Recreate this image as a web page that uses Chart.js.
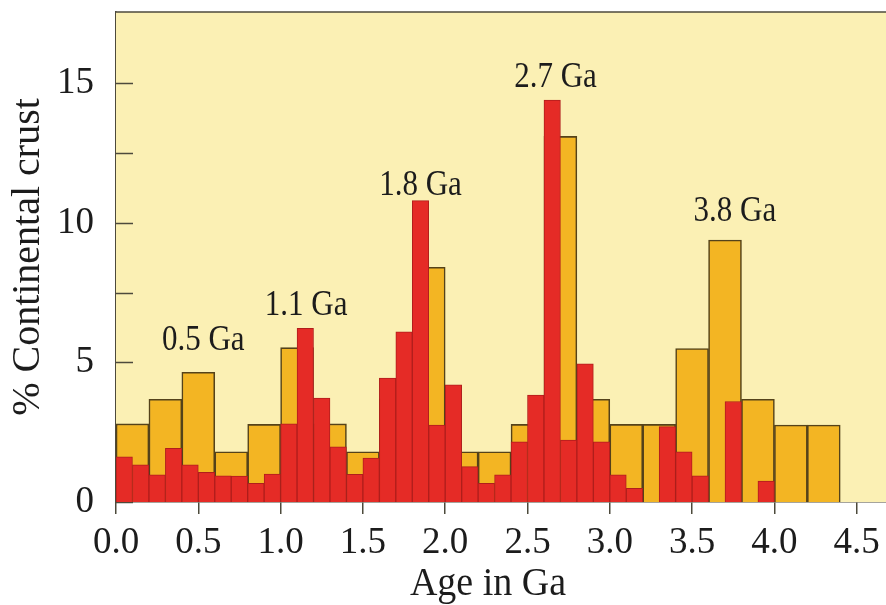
<!DOCTYPE html>
<html>
<head>
<meta charset="utf-8">
<script src="https://cdn.jsdelivr.net/npm/chart.js@4/dist/chart.umd.min.js"></script>
<style>
  html, body { margin: 0; padding: 0; background: #ffffff; overflow: hidden; }
  #wrap { width: 886px; height: 605px; }
</style>
</head>
<body>
<div id="wrap"><canvas id="crustChart"></canvas></div>
<script>
// wide bins (0.2 Ga), centre of each bin
const wideBinCentres = [0.1, 0.3, 0.5, 0.7, 0.9, 1.1, 1.3, 1.5, 1.7, 1.9, 2.1,
  2.3, 2.5, 2.7, 2.9, 3.1, 3.3, 3.5, 3.7, 3.9, 4.1, 4.3];
const wideBinPercent = [2.8, 3.68, 4.65, 1.8, 2.78, 5.53, 2.8, 1.8, 3.7, 8.41, 1.8,
  1.8, 2.78, 13.1, 3.68, 2.78, 2.78, 5.5, 9.39, 3.68, 2.76, 2.76];

// narrow bins (0.1 Ga), centre of each bin
const narrowBinCentres = [0.05, 0.15, 0.25, 0.35, 0.45, 0.55, 0.65, 0.75, 0.85, 0.95,
  1.05, 1.15, 1.25, 1.35, 1.45, 1.55, 1.65, 1.75, 1.85, 1.95,
  2.05, 2.15, 2.25, 2.35, 2.45, 2.55, 2.65, 2.75, 2.85, 2.95,
  3.05, 3.15, 3.25, 3.35, 3.45, 3.55, 3.65, 3.75, 3.85, 3.95];
const narrowBinPercent = [1.62, 1.33, 0.97, 1.92, 1.33, 1.06, 0.94, 0.93, 0.67, 1.0,
  2.8, 6.22, 3.72, 1.98, 0.99, 1.57, 4.44, 6.1, 10.8, 2.76,
  4.2, 1.27, 0.67, 0.97, 2.16, 3.83, 14.4, 2.22, 4.95, 2.16,
  0.97, 0.49, 0, 2.7, 1.8, 0.94, 0, 3.6, 0, 0.75];

// peak labels, placed in data units
const peakLabels = ["0.5 Ga", "1.1 Ga", "1.8 Ga", "2.7 Ga", "3.8 Ga"];
const peakLabelAge = [0.53, 1.155, 1.85, 2.67, 3.76];
const peakLabelPercent = [5.8, 7.05, 11.35, 15.2, 10.4];

const AGE_MAX = 4.678;
const PCT_MAX = 17.56;
const X_TITLE = "Age in Ga";
const X_TITLE_AGE = 2.26; // the title sits a bit left of the plot centre

const serif = "'Liberation Serif', 'DejaVu Serif', serif";
const inkColour = "#1c1c1c";
const frameColour = "#4d4a3c";

const toPoints = (xs, ys) => xs.map((x, i) => ({ x: x, y: ys[i] }));

// serif text in the source looks a little taller than Liberation Serif
function stretchedText(ctx, txt, x, y, sy) {
  ctx.save();
  ctx.translate(x, y);
  ctx.scale(1, sy);
  ctx.fillText(txt, 0, 0);
  ctx.restore();
}

// pale plot background, top frame line, inward y ticks, peak labels
const framePlugin = {
  id: "frame",
  beforeDatasetsDraw(chart) {
    const { ctx, chartArea: a, scales } = chart;
    ctx.save();
    ctx.fillStyle = "#fbf0b4";
    ctx.fillRect(a.left, a.top, a.right - a.left, a.bottom - a.top);
    ctx.strokeStyle = frameColour;
    ctx.lineWidth = 1.5;
    scales.y.ticks.forEach(t => {
      const y = Math.round(scales.y.getPixelForValue(t.value)) + 0.5;
      if (y < a.top + 8) return;
      ctx.beginPath();
      ctx.moveTo(a.left, y);
      ctx.lineTo(a.left + 17, y);
      ctx.stroke();
    });
    ctx.restore();
  },
  afterDatasetsDraw(chart) {
    const { ctx, chartArea: a, scales } = chart;
    ctx.save();
    ctx.strokeStyle = frameColour;
    ctx.lineWidth = 1.5;
    ctx.beginPath();
    ctx.moveTo(a.left, a.top);
    ctx.lineTo(a.right, a.top);
    ctx.stroke();

    ctx.fillStyle = inkColour;
    ctx.font = "31px " + serif;
    ctx.textAlign = "center";
    ctx.textBaseline = "middle";
    peakLabels.forEach((txt, i) => {
      stretchedText(ctx, txt, scales.x.getPixelForValue(peakLabelAge[i]),
        scales.y.getPixelForValue(peakLabelPercent[i]), 1.17);
    });

    ctx.font = "38px " + serif;
    ctx.textBaseline = "alphabetic";
    stretchedText(ctx, X_TITLE, scales.x.getPixelForValue(X_TITLE_AGE), chart.height - 10, 1.05);
    ctx.restore();
  },
};

function init() {
  const ctx = document.getElementById("crustChart");
  new Chart(ctx, {
    type: "bar",
    data: {
      datasets: [
        {
          label: "0.1 Ga bins",
          data: toPoints(narrowBinCentres, narrowBinPercent),
          xAxisID: "x2",
          backgroundColor: "#e52b26",
          borderColor: "#b01e1c",
          borderWidth: 1,
          order: 1,
        },
        {
          label: "0.2 Ga bins",
          data: toPoints(wideBinCentres, wideBinPercent),
          xAxisID: "x",
          backgroundColor: "#f3b523",
          borderColor: "#54421a",
          borderWidth: 1.6,
          order: 2,
        },
      ],
    },
    options: {
      responsive: true,
      maintainAspectRatio: false,
      animation: false,
      grouped: false,
      barPercentage: 1,
      categoryPercentage: 1,
      layout: { padding: { top: 12, right: 0, bottom: 0, left: 0 } },
      plugins: {
        legend: { display: false },
        tooltip: { enabled: false },
      },
      scales: {
        x: {
          type: "linear",
          min: 0,
          max: AGE_MAX,
          offset: false,
          afterFit: s => {
            s.height = 103;
            s.paddingLeft = 0;
            s.paddingRight = 0;
          },
          border: { display: true, color: frameColour, width: 1.5 },
          grid: { display: true, offset: false, drawOnChartArea: false, drawTicks: true, tickLength: 12, color: frameColour, lineWidth: 1.5 },
          ticks: {
            stepSize: 0.5,
            includeBounds: false,
            maxRotation: 0,
            autoSkip: false,
            padding: 7,
            color: inkColour,
            font: { family: serif, size: 37 },
            callback: v => v.toFixed(1),
          },
        },
        x2: {
          type: "linear",
          min: 0,
          max: AGE_MAX,
          offset: false,
          display: false,
        },
        y: {
          min: 0,
          max: PCT_MAX,
          afterFit: s => {
            s.width = 116;
            s.paddingTop = 0;
            s.paddingBottom = 0;
          },
          border: { display: true, color: frameColour, width: 1.5 },
          grid: { display: false, drawTicks: false },
          ticks: {
            stepSize: 2.5,
            includeBounds: false,
            padding: 22,
            color: inkColour,
            font: { family: serif, size: 37 },
            callback: v => (v % 5 === 0 ? String(v) : ""),
          },
          title: {
            display: true,
            text: "% Continental crust",
            color: inkColour,
            font: { family: serif, size: 40 },
            padding: { top: 4, bottom: 0 },
          },
        },
      },
    },
    plugins: [framePlugin],
  });
}

window.addEventListener("DOMContentLoaded", init);
</script>
</body>
</html>
